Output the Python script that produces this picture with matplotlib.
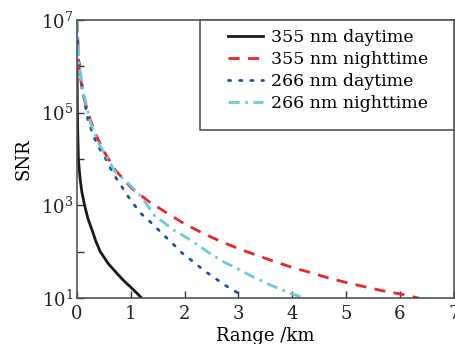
import numpy as np
import matplotlib
matplotlib.use("Agg")
import matplotlib.pyplot as plt
from matplotlib.patches import Rectangle
from matplotlib.ticker import FixedLocator, FuncFormatter

# Range (km) and log10(SNR)
r_355_day = [0, 0.005, 0.012, 0.025, 0.04, 0.06, 0.09, 0.14, 0.2, 0.28, 0.35, 0.43, 0.58,
             0.74, 0.86, 0.99, 1.2]
lg_355_day = [6.0, 5.2, 4.6, 4.0, 3.78, 3.54, 3.28, 3.0, 2.72, 2.46, 2.22, 2.0, 1.74,
              1.53, 1.38, 1.24, 1.0]

r_355_night = [0, 0.03, 0.1, 0.2, 0.34, 0.5, 0.71, 1.02, 1.36, 1.7, 2.01, 2.35, 2.69,
               3.03, 3.34, 3.68, 4.02, 4.36, 4.67, 5.01, 5.35, 5.69, 6.03, 6.37]
lg_355_night = [7.0, 6.03, 5.45, 5.0, 4.55, 4.16, 3.76, 3.36, 3.06, 2.81, 2.59, 2.39, 2.21,
                2.05, 1.92, 1.78, 1.65, 1.54, 1.43, 1.33, 1.24, 1.15, 1.08, 0.99]

r_266_day = [0, 0.02, 0.06, 0.12, 0.2, 0.31, 0.4, 0.53, 0.62, 0.74, 0.86, 0.96, 1.17, 1.39,
             1.58, 1.77, 1.95, 2.16, 2.35, 2.57, 2.77, 2.97, 3.03]
lg_266_day = [6.8, 6.39, 5.88, 5.38, 4.85, 4.48, 4.26, 4.01, 3.8, 3.56, 3.35, 3.17, 2.84, 2.61,
              2.39, 2.18, 1.97, 1.78, 1.6, 1.42, 1.26, 1.12, 1.0]

r_266_night = [0, 0.04, 0.12, 0.25, 0.4, 0.71, 0.92, 1.2, 1.43, 1.8, 2.11, 2.42, 2.72,
               3.03, 3.31, 3.59, 3.96, 4.24]
lg_266_night = [7.0, 6.03, 5.42, 4.78, 4.34, 3.72, 3.51, 3.18, 2.79, 2.46, 2.25, 2.0, 1.78,
                1.6, 1.43, 1.28, 1.1, 0.99]

labels = ["355 nm daytime", "355 nm nighttime", "266 nm daytime", "266 nm nighttime"]

plt.rcParams["font.family"] = ["DejaVu Serif"]
plt.rcParams["mathtext.fontset"] = "dejavuserif"

fig = plt.figure(figsize=(4.56, 3.44), dpi=100)
ax = fig.add_axes([0.169, 0.134, 0.826, 0.808])

ax.semilogy(r_355_day, 10 ** np.array(lg_355_day), "-", c="#1a1a1a", lw=2, label=labels[0])
ax.semilogy(r_355_night, 10 ** np.array(lg_355_night), c="#e8262b", lw=2,
            ls=(0, (4, 3)), label=labels[1])
ax.semilogy(r_266_day, 10 ** np.array(lg_266_day), c="#2152a3", lw=2,
            ls=(0, (0.8, 3.2)), dash_capstyle="round", label=labels[2])
ax.semilogy(r_266_night, 10 ** np.array(lg_266_night), c="#6dcbd6", lw=2,
            ls=(0, (4, 2, 1, 2)), label=labels[3])

ax.set_xlim(0, 7)
ax.set_ylim(1e1, 1e7)
ax.set_xticks(range(8))
ax.yaxis.set_major_locator(FixedLocator([10.0 ** k for k in range(1, 8)]))
ax.yaxis.set_minor_locator(FixedLocator([]))
ax.yaxis.set_major_formatter(FuncFormatter(
    lambda v, p: f"$10^{{{int(round(np.log10(v)))}}}$" if int(round(np.log10(v))) % 2 else ""))
ax.tick_params(direction="in", length=5, width=1, labelsize=13, colors="#333333")
ax.tick_params(axis="x", pad=5)
ax.tick_params(axis="y", pad=3)
ax.tick_params(labelcolor="#222222")
for s in ax.spines.values():
    s.set_color("#555555")
    s.set_linewidth(1.2)

ax.set_xlabel("Range /km", fontsize=13, labelpad=3)
ax.set_ylabel("SNR", fontsize=13, labelpad=6)

# legend box, wider on the left than the default frame
ax.add_patch(Rectangle((0.326, 0.604), 0.674, 0.396, transform=ax.transAxes,
                       facecolor="white", edgecolor="#555555", lw=1.2, zorder=4,
                       clip_on=False))
leg = ax.legend(loc="upper left", bbox_to_anchor=(0.402, 0.968), fontsize=12.5,
                frameon=False, borderaxespad=0, borderpad=0, handlelength=2.0,
                handletextpad=0.45, labelspacing=0.3)
leg.set_zorder(5)

fig.savefig("out.png", dpi=100)
